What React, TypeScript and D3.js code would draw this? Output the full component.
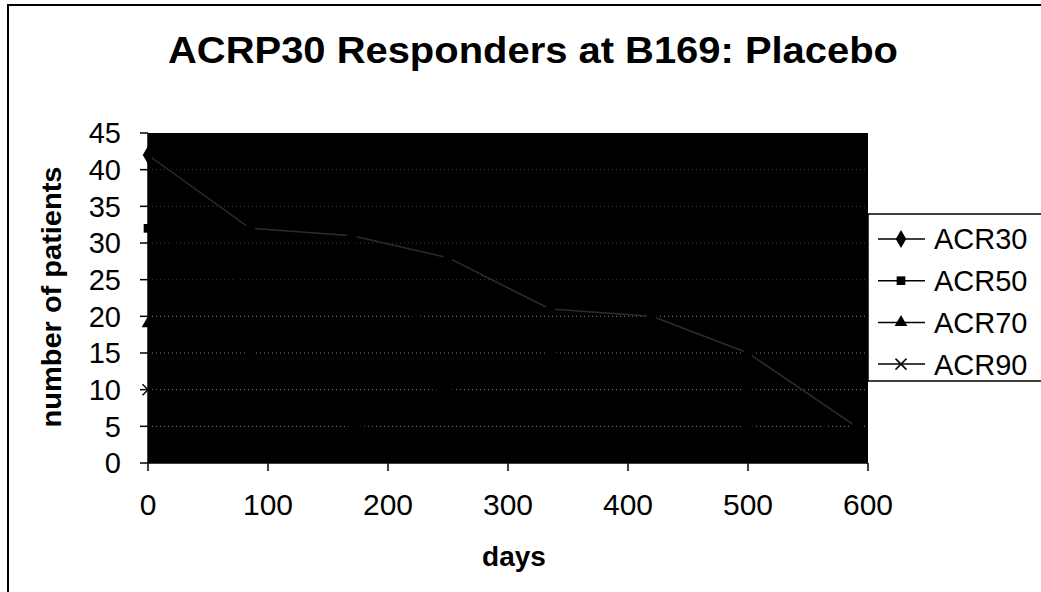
import React from "react";
import * as d3 from "d3";

// Observation days and responder counts per ACR threshold
const days = [0, 85, 170, 250, 335, 420, 500, 590];
const acr30 = [42, 32, 31, 28, 21, 20, 15, 5];
const acr50 = [32, 24, 22, 19, 15, 13, 10, 3];
const acr70 = [19, 15, 11, 10, 8, 7, 5, 2];
const acr90 = [10, 7, 5, 4, 3, 3, 2, 1];

const seriesNames = ["ACR30", "ACR50", "ACR70", "ACR90"];
const seriesValues = [acr30, acr50, acr70, acr90];
const xTicks = [0, 100, 200, 300, 400, 500, 600];
const yTicks = [0, 5, 10, 15, 20, 25, 30, 35, 40, 45];

const W = 1041;
const H = 592;
const plot = { left: 148, right: 868, top: 133, bottom: 463 };
const FONT = "'Liberation Sans', Arial, sans-serif";

const x = d3.scaleLinear().domain([0, 600]).range([plot.left, plot.right]);
const y = d3.scaleLinear().domain([0, 45]).range([plot.bottom, plot.top]);

const symbols = [d3.symbolDiamond, d3.symbolSquare, d3.symbolTriangle, d3.symbolCross];
const symbolSizes = [95, 75, 70, 60];

function Marker({ kind, cx, cy }: { kind: number; cx: number; cy: number }) {
  if (kind === 3) {
    const r = 5.5;
    return (
      <g transform={`translate(${cx},${cy})`} stroke="#000" strokeWidth={1.5}>
        <line x1={-r} y1={-r} x2={r} y2={r} />
        <line x1={-r} y1={r} x2={r} y2={-r} />
      </g>
    );
  }
  const p = d3.symbol().type(symbols[kind]).size(symbolSizes[kind])() as string;
  return <path d={p} transform={`translate(${cx},${cy})`} fill="#000" />;
}

export default function App() {
  const line = d3
    .line<number>()
    .x((_, i) => x(days[i]))
    .y((v) => y(v));

  // only the first series shows as a faint trace against the dark plot area
  const lineColors = ["#2c2c2c", "#000", "#000", "#000"];

  return (
    <svg
      width={W}
      height={H}
      style={{ position: "absolute", left: 0, top: 0, background: "#fff" }}
      fontFamily={FONT}
    >
      {/* chart frame */}
      <path d={`M8,${H + 5} V5 H${W + 5}`} fill="none" stroke="#000" strokeWidth={2} />

      {/* title */}
      <text
        x={533}
        y={63}
        textAnchor="middle"
        fontSize={37}
        fontWeight="bold"
        textLength={730}
        lengthAdjust="spacingAndGlyphs"
      >
        ACRP30 Responders at B169: Placebo
      </text>

      {/* plot area */}
      <rect
        x={plot.left}
        y={plot.top}
        width={plot.right - plot.left}
        height={plot.bottom - plot.top}
        fill="#000"
      />

      {/* gridlines */}
      {yTicks
        .filter((t) => t > 0 && t < 45)
        .map((t) => (
          <line
            key={`g${t}`}
            x1={plot.left}
            x2={plot.right}
            y1={y(t)}
            y2={y(t)}
            stroke={t <= 20 ? "#808080" : "#3a3a3a"}
            strokeWidth={1}
            strokeDasharray="1,3"
          />
        ))}

      {/* series lines */}
      {seriesValues.map((vals, si) => (
        <path
          key={`l${si}`}
          d={line(vals) as string}
          fill="none"
          stroke={lineColors[si]}
          strokeWidth={1.5}
        />
      ))}

      {/* series markers */}
      {seriesValues.map((vals, si) =>
        vals.map((v, i) => <Marker key={`m${si}-${i}`} kind={si} cx={x(days[i])} cy={y(v)} />)
      )}

      {/* axes */}
      <line x1={plot.left} x2={plot.right} y1={plot.bottom} y2={plot.bottom} stroke="#000" strokeWidth={1.5} />
      <line x1={plot.left} x2={plot.left} y1={plot.top} y2={plot.bottom} stroke="#000" strokeWidth={1.5} />
      {xTicks.map((t) => (
        <g key={`xt${t}`}>
          <line x1={x(t)} x2={x(t)} y1={plot.bottom} y2={plot.bottom + 8} stroke="#000" strokeWidth={1.5} />
          <text x={x(t)} y={515} textAnchor="middle" fontSize={30}>
            {t}
          </text>
        </g>
      ))}
      {yTicks.map((t) => (
        <g key={`yt${t}`}>
          <line x1={plot.left - 8} x2={plot.left} y1={y(t)} y2={y(t)} stroke="#000" strokeWidth={1.5} />
          <text x={121} y={y(t)} dy="0.36em" textAnchor="end" fontSize={29}>
            {t}
          </text>
        </g>
      ))}

      {/* axis titles */}
      <text x={514} y={566} textAnchor="middle" fontSize={28} fontWeight="bold">
        days
      </text>
      <text
        transform={`translate(61,${297}) rotate(-90)`}
        textAnchor="middle"
        fontSize={28}
        fontWeight="bold"
        textLength={261}
        lengthAdjust="spacingAndGlyphs"
      >
        number of patients
      </text>

      {/* legend */}
      <rect x={868} y={214} width={W} height={167} fill="#fff" stroke="#000" strokeWidth={1.5} />
      {seriesNames.map((name, i) => {
        const cy = 239 + i * 41.7;
        return (
          <g key={`lg${name}`}>
            <line x1={878} x2={925} y1={cy} y2={cy} stroke="#000" strokeWidth={1.5} />
            <Marker kind={i} cx={901} cy={cy} />
            <text x={934} y={cy} dy="0.36em" fontSize={29}>
              {name}
            </text>
          </g>
        );
      })}
    </svg>
  );
}
